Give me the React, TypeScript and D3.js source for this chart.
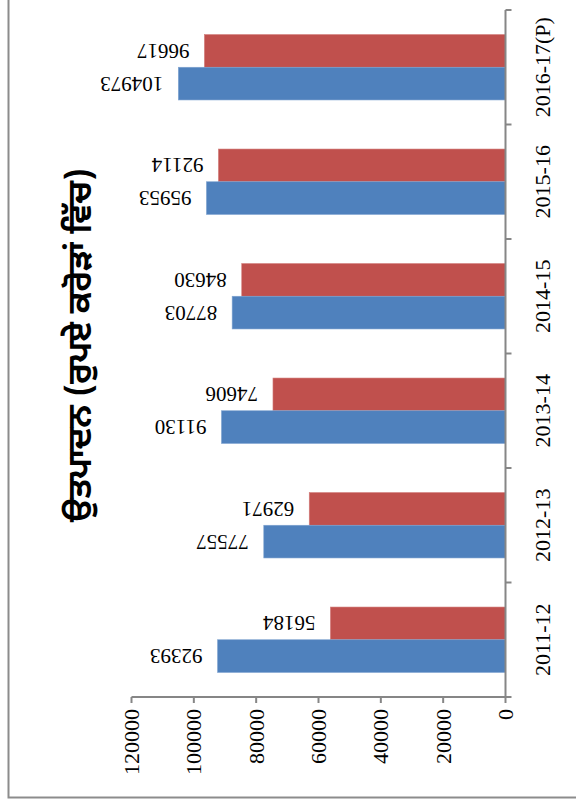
import React from "react";
import * as d3 from "d3";

const categories = ["2011-12", "2012-13", "2013-14", "2014-15", "2015-16", "2016-17(P)"];
const seriesBlue = [92393, 77557, 91130, 87703, 95953, 104973];
const seriesRed = [56184, 62971, 74606, 84630, 92114, 96617];
const valueTicks = [0, 20000, 40000, 60000, 80000, 100000, 120000];
const titleText = "ਉਤਪਾਦਨ (ਰੁਪਏ ਕਰੋੜਾਂ ਵਿੱਚ)";

const W = 576;
const H = 803;
const axisX = 505.5;
const axisTop = 10;
const axisBottom = 697;
const axisColor = "#868686";
const blue = "#4F81BD";
const red = "#C0504D";
const serif = "'Liberation Serif', 'Times New Roman', serif";

export default function App() {
  const x = d3.scaleLinear().domain([0, 120000]).range([axisX, 131.5]);
  const y = d3
    .scaleBand<string>()
    .domain(categories)
    .range([axisBottom, axisTop])
    .paddingInner(0)
    .paddingOuter(0);
  const bw = y.bandwidth();
  const t = bw / 3.5;
  const catTicks = [...categories.map((c) => y(c)! + bw), axisTop];

  return (
    <svg
      width={W}
      height={H}
      style={{ position: "absolute", left: 0, top: 0, background: "#fff" }}
    >
      <rect x={0} y={0} width={W} height={H} fill="#fff" />
      {/* outer frame */}
      <rect
        x={8.5}
        y={-20}
        width={W + 20}
        height={797.5 + 20}
        fill="none"
        stroke="#8c8c8c"
        strokeWidth={2}
      />
      {/* bars */}
      {categories.map((c, i) => {
        const cy = y(c)! + bw / 2;
        return (
          <g key={c}>
            <rect
              x={x(seriesRed[i])}
              y={cy - t}
              width={axisX - x(seriesRed[i])}
              height={t}
              fill={red}
              stroke="#d27f7c"
              strokeWidth={0.6}
            />
            <rect
              x={x(seriesBlue[i])}
              y={cy}
              width={axisX - x(seriesBlue[i])}
              height={t}
              fill={blue}
              stroke="#7fa3d0"
              strokeWidth={0.6}
            />
            <text
              transform={`translate(${x(seriesRed[i]) - 15},${cy - t / 2}) rotate(180)`}
              fontFamily={serif}
              fontSize={21}
              dominantBaseline="central"
              textAnchor="start"
              fill="#000"
            >
              {seriesRed[i]}
            </text>
            <text
              transform={`translate(${x(seriesBlue[i]) - 15},${cy + t / 2}) rotate(180)`}
              fontFamily={serif}
              fontSize={21}
              dominantBaseline="central"
              textAnchor="start"
              fill="#000"
            >
              {seriesBlue[i]}
            </text>
            <text
              transform={`translate(542,${cy}) rotate(-90)`}
              fontFamily={serif}
              fontSize={22}
              dominantBaseline="central"
              textAnchor="middle"
              fill="#000"
            >
              {c}
            </text>
          </g>
        );
      })}
      {/* category axis */}
      <line x1={axisX} x2={axisX} y1={axisTop} y2={axisBottom} stroke={axisColor} strokeWidth={2} />
      {catTicks.map((ty, i) => (
        <line key={i} x1={axisX} x2={axisX + 6} y1={ty} y2={ty} stroke={axisColor} strokeWidth={2} />
      ))}
      {/* value axis */}
      <line x1={x(120000)} x2={axisX} y1={axisBottom} y2={axisBottom} stroke={axisColor} strokeWidth={2} />
      {valueTicks.map((v) => (
        <g key={v}>
          <line x1={x(v)} x2={x(v)} y1={axisBottom} y2={axisBottom + 6} stroke={axisColor} strokeWidth={2} />
          <text
            transform={`translate(${x(v)},${axisBottom + 12}) rotate(-90)`}
            fontFamily={serif}
            fontSize={22}
            dominantBaseline="central"
            textAnchor="end"
            fill="#000"
          >
            {v}
          </text>
        </g>
      ))}
      {/* title */}
      <text
        transform={`translate(91,345) rotate(-90)`}
        fontFamily="'Noto Sans Gurmukhi', 'Raavi', 'Noto Sans', sans-serif"
        fontWeight="bold"
        fontSize={33}
        textAnchor="middle"
        fill="#000"
      >
        {titleText}
      </text>
    </svg>
  );
}
